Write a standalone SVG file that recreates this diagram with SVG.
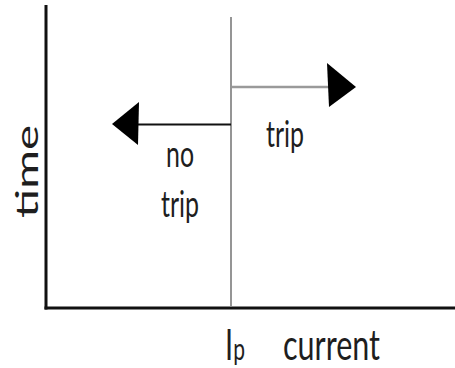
<svg xmlns="http://www.w3.org/2000/svg" width="455" height="368" viewBox="0 0 455 368">
<style>
.ax{stroke:#111;stroke-width:3;fill:none}
.lbl{font-family:Lato,"Liberation Sans",sans-serif;fill:#1e1e1e}
.head{fill:#000}
</style>
<rect width="455" height="368" fill="#fff"/>
<g id="axes">
<line class="ax" x1="46" y1="5" x2="46" y2="309.5"/>
<line class="ax" x1="44.5" y1="308" x2="455" y2="308"/>
</g>
<g id="threshold">
<line x1="231" y1="17" x2="231" y2="307" stroke="#8a8a8a" stroke-width="1.8"/>
</g>
<g id="connectors">
<line x1="232" y1="87" x2="330" y2="87" stroke="#9a9a9a" stroke-width="2.5"/>
<polygon class="head" points="327,63 356,87 329,107"/>
<line x1="231" y1="124.5" x2="136" y2="124.5" stroke="#111" stroke-width="2.2"/>
<polygon class="head" points="112,124 139,102 138,145"/>
</g>
<g id="label-time">
<text class="lbl" transform="translate(38,171.5) rotate(-90)" text-anchor="middle" font-size="30" textLength="93" lengthAdjust="spacingAndGlyphs">time</text>
</g>
<g id="label-trip">
<text class="lbl" transform="translate(285,147) scale(1,1.55)" text-anchor="middle" font-size="24" textLength="38" lengthAdjust="spacingAndGlyphs">trip</text>
</g>
<g id="label-notrip">
<text class="lbl" transform="translate(180,167) scale(1,1.55)" text-anchor="middle" font-size="24" textLength="28" lengthAdjust="spacingAndGlyphs">no</text>
<text class="lbl" transform="translate(180,217) scale(1,1.55)" text-anchor="middle" font-size="24" textLength="38" lengthAdjust="spacingAndGlyphs">trip</text>
</g>
<g id="label-ip">
<text class="lbl" transform="translate(225,360) scale(1,1.45)" font-size="29">I<tspan font-size="21">p</tspan></text>
</g>
<g id="label-current">
<text class="lbl" transform="translate(283,360) scale(1,1.45)" font-size="29" textLength="97" lengthAdjust="spacingAndGlyphs">current</text>
</g>
</svg>
